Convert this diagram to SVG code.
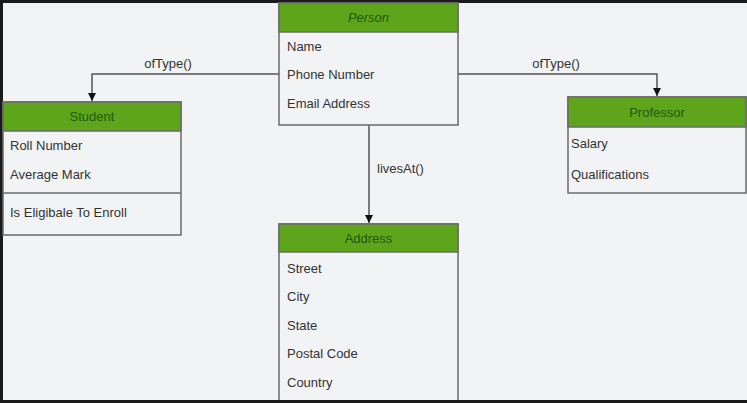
<svg xmlns="http://www.w3.org/2000/svg" width="747" height="403" viewBox="0 0 747 403">
<defs>
<style>
.bg{fill:#f2f3f5}
.box{fill:#f2f3f5;stroke:#6b6b6b;stroke-width:1.5}
.hdr{fill:#5ea51c;stroke:#6b6b6b;stroke-width:1.5}
.t{font-family:"Liberation Sans",Arial,sans-serif;font-size:13px;fill:#333}
.h{font-family:"Liberation Sans",Arial,sans-serif;font-size:13px;fill:#1e5a0c;text-anchor:middle}
.c{fill:none;stroke:#555;stroke-width:1.5}
.lbl{font-family:"Liberation Sans",Arial,sans-serif;font-size:13px;fill:#333;text-anchor:middle}
</style>
<marker id="arr" markerWidth="10" markerHeight="10" refX="8" refY="5" orient="auto" markerUnits="userSpaceOnUse">
<path d="M0,1 L8,5 L0,9 Z" fill="#111"/>
</marker>
</defs>
<rect x="0" y="0" width="747" height="403" fill="#1a1a1a"/>
<rect class="bg" x="3" y="3" width="744" height="397"/>

<g id="connectors">
<path class="c" d="M279,74 H92 V101" marker-end="url(#arr)"/>
<text class="lbl" x="168" y="68">ofType()</text>
<path class="c" d="M458,74 H657 V96" marker-end="url(#arr)"/>
<text class="lbl" x="556" y="68">ofType()</text>
<path class="c" d="M369,125 V223" marker-end="url(#arr)"/>
<text class="t" x="377" y="173">livesAt()</text>
</g>

<g id="person">
<rect class="box" x="279" y="3" width="179" height="122"/>
<rect class="hdr" x="279" y="3" width="179" height="29"/>
<text class="h" x="368.5" y="22" font-style="italic">Person</text>
<text class="t" x="287" y="51">Name</text>
<text class="t" x="287" y="79">Phone Number</text>
<text class="t" x="287" y="108">Email Address</text>
</g>

<g id="student">
<rect class="box" x="3" y="102" width="178" height="133"/>
<rect class="hdr" x="3" y="102" width="178" height="29"/>
<text class="h" x="92" y="121">Student</text>
<text class="t" x="10" y="150">Roll Number</text>
<text class="t" x="10" y="179">Average Mark</text>
<line x1="3" y1="193" x2="181" y2="193" stroke="#6b6b6b" stroke-width="1.5"/>
<text class="t" x="10" y="217">Is Eligibale To Enroll</text>
</g>

<g id="professor">
<rect class="box" x="568" y="97" width="178" height="96"/>
<rect class="hdr" x="568" y="97" width="178" height="30"/>
<text class="h" x="657" y="117">Professor</text>
<text class="t" x="571" y="148">Salary</text>
<text class="t" x="571" y="179">Qualifications</text>
</g>

<g id="address">
<rect class="box" x="279" y="224" width="179" height="180"/>
<rect class="hdr" x="279" y="224" width="179" height="28"/>
<text class="h" x="368.5" y="243">Address</text>
<text class="t" x="287" y="273">Street</text>
<text class="t" x="287" y="301">City</text>
<text class="t" x="287" y="330">State</text>
<text class="t" x="287" y="358">Postal Code</text>
<text class="t" x="287" y="387">Country</text>
</g>
<rect x="0" y="400" width="747" height="3" fill="#1a1a1a"/>
</svg>
